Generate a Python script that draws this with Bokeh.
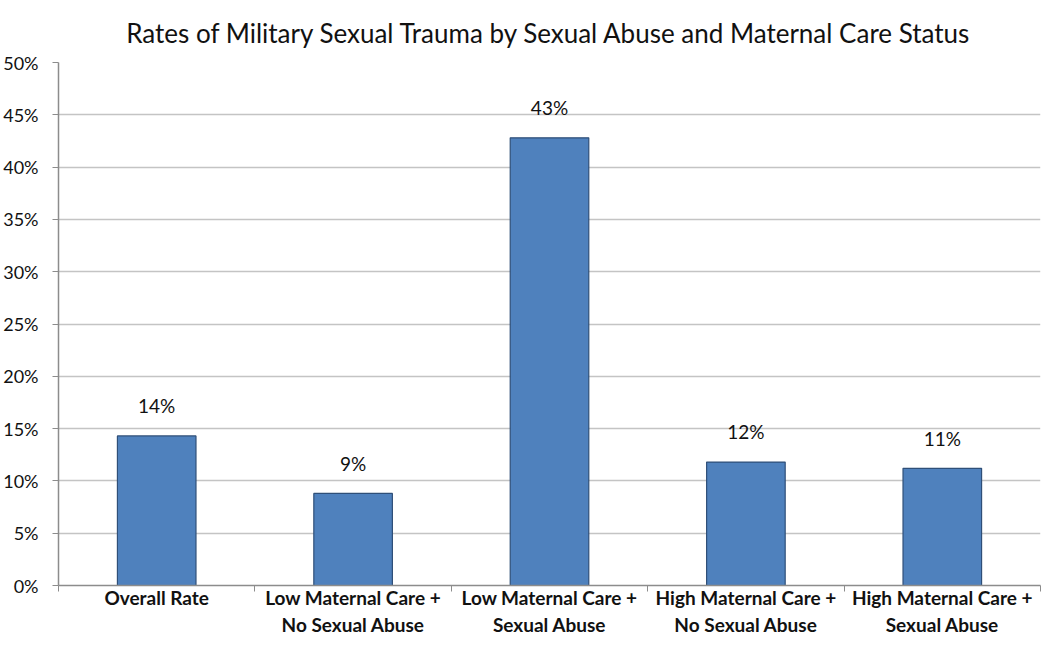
import numpy as np
from bokeh.plotting import figure
from bokeh.models import FixedTicker, PrintfTickFormatter, Range1d, ColumnDataSource
from bokeh.embed import file_html
from bokeh.resources import INLINE
from bokeh.core.properties import value

categories = [
    "Overall Rate",
    "Low Maternal Care +\nNo Sexual Abuse",
    "Low Maternal Care +\nSexual Abuse",
    "High Maternal Care +\nNo Sexual Abuse",
    "High Maternal Care +\nSexual Abuse",
]
rates = [14.3, 8.8, 42.8, 11.8, 11.2]
y_ticks = [0, 5, 10, 15, 20, 25, 30, 35, 40, 45, 50]

FONT = "Lato"
n = len(categories)
xc = np.arange(n) + 0.5
labels = [f"{round(v)}%" for v in rates]

src = ColumnDataSource(dict(x=xc, top=rates, ly=np.array(rates) + 1.8, label=labels))

p = figure(width=1042, height=639, output_backend="svg", toolbar_location=None,
           x_range=Range1d(0, n), y_range=Range1d(0, 50),
           min_border_left=0, min_border_right=2, min_border_bottom=0, min_border_top=0)

p.title.text = "Rates of Military Sexual Trauma by Sexual Abuse and Maternal Care Status"
p.title.align = "center"
p.title.text_font = FONT
p.title.text_font_size = "26px"
p.title.text_font_style = "normal"
p.title.text_color = "#111111"
p.title.standoff = 28
p.title.padding = 0

p.outline_line_color = None
p.xgrid.grid_line_color = None
p.ygrid.ticker = FixedTicker(ticks=y_ticks)
p.ygrid.grid_line_color = "#c4c4c4"
p.ygrid.grid_line_width = 1.5

p.vbar(x="x", top="top", width=0.4, bottom=0, source=src,
       fill_color="#4f81bd", line_color="#2f4f78", line_width=1.2)

p.text(x="x", y="ly", text="label", source=src, text_align="center",
       text_baseline="bottom", text_font=value(FONT), text_font_size="19px",
       text_color="#111111")

ya = p.yaxis[0]
ya.ticker = FixedTicker(ticks=y_ticks)
ya.formatter = PrintfTickFormatter(format="%d%%")
ya.axis_line_color = "#8c8c8c"
ya.axis_line_width = 1.5
ya.major_tick_line_color = "#8c8c8c"
ya.major_tick_out = 6
ya.major_tick_in = 0
ya.minor_tick_line_color = None
ya.major_label_text_font = FONT
ya.major_label_text_font_size = "18px"
ya.major_label_text_color = "#111111"
ya.major_label_standoff = 14

xa = p.xaxis[0]
xa.ticker = FixedTicker(ticks=list(xc), minor_ticks=list(range(n + 1)))
xa.major_label_overrides = {float(x): c for x, c in zip(xc, categories)}
xa.axis_line_color = "#8c8c8c"
xa.axis_line_width = 1.5
xa.major_tick_line_color = None
xa.major_tick_out = 0
xa.major_tick_in = 0
xa.minor_tick_line_color = "#8c8c8c"
xa.minor_tick_out = 6
xa.minor_tick_in = 0
xa.major_label_text_font = FONT
xa.major_label_text_font_size = "19px"
xa.major_label_text_font_style = "bold"
xa.major_label_text_color = "#111111"
xa.major_label_standoff = -6

open("out.html", "w").write(file_html(p, INLINE))
